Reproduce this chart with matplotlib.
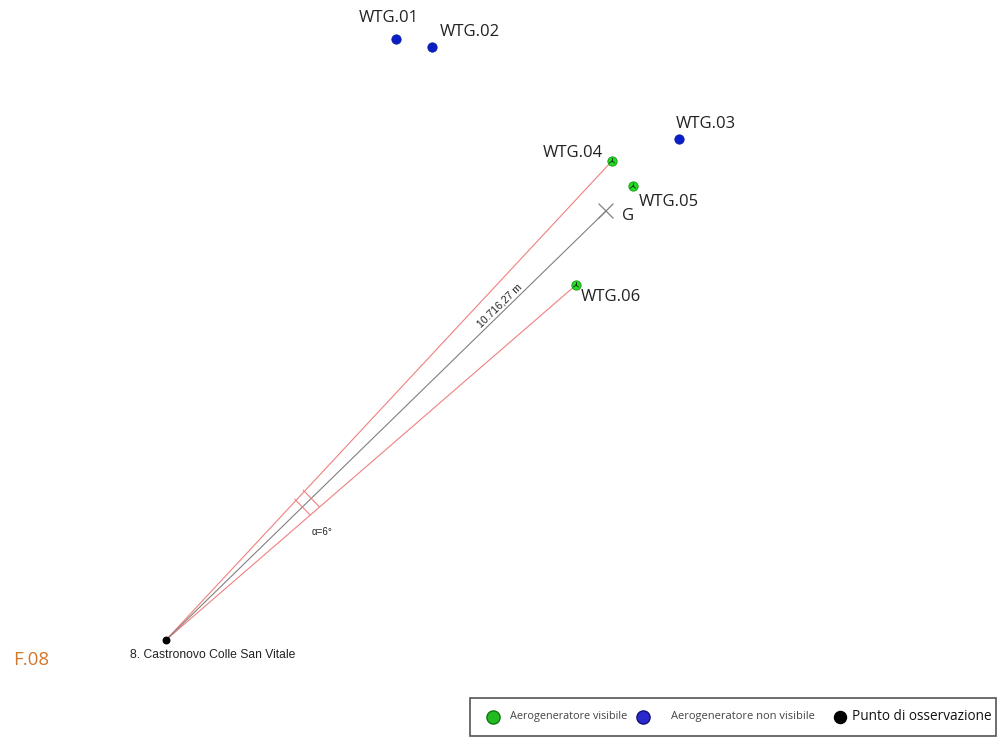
import matplotlib
matplotlib.use("Agg")
import matplotlib.pyplot as plt
import numpy as np
from matplotlib.patches import Rectangle

# Data (pixel-space map coordinates)
turbines = ["WTG.01", "WTG.02", "WTG.03", "WTG.04", "WTG.05", "WTG.06"]
tx = [396, 432, 679, 612, 633, 576]
ty = [39, 47, 139, 161, 186, 285]
visible = [False, False, False, True, True, True]
label_x = [359, 440, 676, 543, 639, 581]
label_y = [18, 32, 124, 153, 202, 297]

observer = (166, 640)
observer_name = "8. Castronovo Colle San Vitale"
G = (606, 211)
distance_text = "10.716,27 m"
angle_text = "α=6°"

fig = plt.figure(figsize=(9.98, 7.38), dpi=100)
ax = fig.add_axes([0, 0, 1, 1])
ax.set_xlim(0, 998)
ax.set_ylim(738, 0)
ax.axis("off")

# sight lines
ox, oy = observer
ax.plot([ox, tx[3]], [oy, ty[3]], color="#f08080", lw=0.8, zorder=1)
ax.plot([ox, tx[5]], [oy, ty[5]], color="#f08080", lw=0.8, zorder=1)
ax.plot([ox, G[0]], [oy, G[1]], color="#808080", lw=0.8, zorder=1)

# angle marker: perpendicular ticks
gx, gy = G
d = np.array([gx - ox, gy - oy], float)
L = np.hypot(*d)
u = d / L
n = np.array([-u[1], u[0]])
for frac in [0.31, 0.33]:
    p = np.array([ox, oy]) + u * L * frac
    half = L * frac * np.tan(np.radians(3.2))
    a = p - n * half
    b = p + n * half
    ax.plot([a[0], b[0]], [a[1], b[1]], color="#f08080", lw=0.8, zorder=1)

# G cross
s = 7
ax.plot([gx - s, gx + s], [gy - s, gy + s], color="#808080", lw=0.9)
ax.plot([gx - s, gx + s], [gy + s, gy - s], color="#808080", lw=0.9)
ax.text(622, 216, "G", fontsize=12, color="#222222", va="center", ha="left",
        family="Open Sans")

# turbines
for name, x, y, v, lx, ly in zip(turbines, tx, ty, visible, label_x, label_y):
    if v:
        ax.scatter([x], [y], s=45, color="#22dd22", edgecolors="#119911", linewidths=0.6, zorder=3)
        ax.plot([x, x], [y, y - 3], color="#222222", lw=0.6, zorder=4)
        ax.plot([x, x + 2.5], [y, y + 2], color="#222222", lw=0.6, zorder=4)
        ax.plot([x, x - 2.5], [y, y + 2], color="#222222", lw=0.6, zorder=4)
    else:
        ax.scatter([x], [y], s=45, color="#0a1ec8", edgecolors="#0a1ea0", linewidths=0.6, zorder=3)
    ax.text(lx, ly, name, fontsize=12, color="#222222", va="center", ha="left",
            family="Open Sans")

# observer
ax.scatter([ox], [oy], s=22, color="black", zorder=3)
ax.text(130, 655, observer_name, fontsize=8.7, color="#222222", va="center", ha="left",
        family="Liberation Sans")
ax.text(13, 660, "F.08", fontsize=13.5, color="#d2782d", va="center", ha="left",
        family="Open Sans")

# labels on line
ang = np.degrees(np.arctan2(-(gy - oy), gx - ox))
ax.text(500, 306, distance_text, fontsize=7.5, rotation=ang, rotation_mode="anchor",
        ha="center", va="center", color="#222222", family="Liberation Sans")
ax.text(322, 532, angle_text, fontsize=7, color="#222222", ha="center", va="center",
        family="Liberation Sans")

# legend box
ax.add_patch(Rectangle((470, 698), 526, 38, fill=False, edgecolor="#555555", lw=1.2))
ax.scatter([493], [717], s=90, color="#22bb22", edgecolors="#117711", linewidths=1.0, zorder=3)
ax.text(510, 717, "Aerogeneratore visibile", fontsize=7.8, va="center", ha="left",
        color="#444444", family="Open Sans")
ax.scatter([643], [717], s=90, color="#2a2acc", edgecolors="#111177", linewidths=1.0, zorder=3)
ax.text(671, 717, "Aerogeneratore non visibile", fontsize=8, va="center", ha="left",
        color="#444444", family="Open Sans")
ax.scatter([840], [717], s=75, color="black", zorder=3)
ax.text(852, 717, "Punto di osservazione", fontsize=9.8, va="center", ha="left",
        color="#111111", family="Open Sans")

fig.savefig("out.png", dpi=100, facecolor="white")
